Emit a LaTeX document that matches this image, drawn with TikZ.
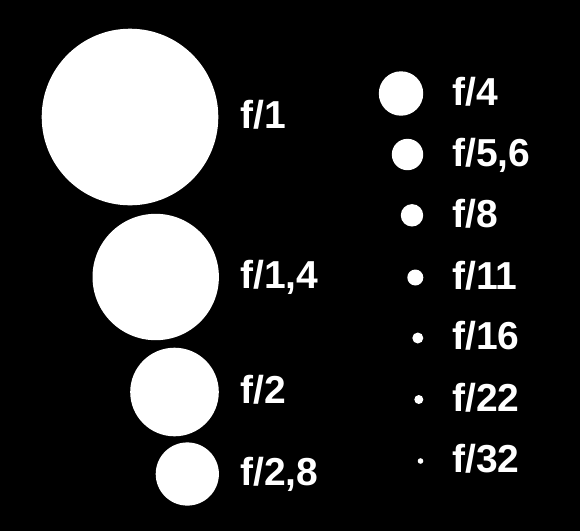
\documentclass[tikz,border=0pt]{standalone}
\usepackage{fontspec}
\setmainfont{Liberation Sans}
\tikzset{
  stop/.style={circle, fill=white, inner sep=0pt},
  stoplabel/.style={text=white, font=\bfseries\fontsize{39}{41}\selectfont, anchor=base west, inner sep=0pt}
}
\begin{document}
\begin{tikzpicture}[x=1pt,y=-1pt]
	\fill[black] (0,0) rectangle (580,531);
	\useasboundingbox (0,0) rectangle (580,531);
	% left column
	\foreach \cx/\cy/\r/\n [count=\i] in {130/117/88.3/1, 155.7/277/63.2/{1,4}, 174.5/392/44.3/2, 187.3/474/31.6/{2,8}}
	{
		\node[stop, minimum size=2*\r] (a\i) at (\cx,\cy) {};
		\node[stoplabel] (la\i) at (240,\cy+11.8) {f/\n};
	}
	% right column
	\foreach \cx/\cy/\r/\n [count=\i] in {401/93.5/22.2/4, 407.5/154.5/15.7/{5,6}, 412/215.3/11.2/8, 415.3/277.5/8/11, 417.8/338/5.5/16, 418.8/399.5/4.5/22, 420.5/461/2.8/32}
	{
		\node[stop, minimum size=2*\r] (b\i) at (\cx,\cy) {};
		\node[stoplabel] (lb\i) at (452,\cy+11.8) {f/\n};
	}
\end{tikzpicture}
\end{document}
